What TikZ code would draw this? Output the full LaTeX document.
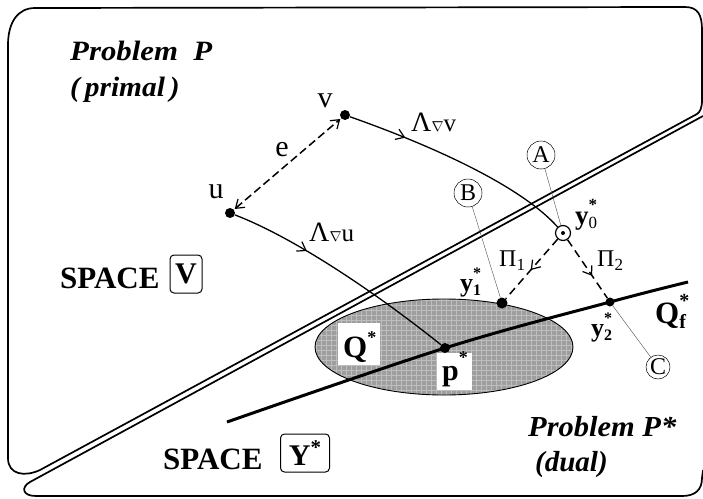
\documentclass[tikz,border=0pt]{standalone}
\usepackage{fontspec}
\setmainfont{Liberation Serif}
\usetikzlibrary{arrows.meta,decorations.markings}
\newcommand\SupSub[4]{#1\makebox[0pt][l]{\raisebox{0.5em}{\fontsize{#4}{#4}\selectfont #2}}{\fontsize{#4}{#4}\selectfont\raisebox{-0.28em}{#3}}}
\newcommand\fs[1]{\fontsize{#1}{#1}\selectfont}
\definecolor{ellgray}{RGB}{158,158,158}
\definecolor{gridgray}{RGB}{190,190,190}
\begin{document}
\begin{tikzpicture}[x=1pt,y=-1pt,
  outline/.style={line width=1.7pt, line join=round},
  dotnode/.style={circle, fill=black, inner sep=0pt, minimum size=#1},
  dotnode/.default=10pt,
  lbl/.style={inner sep=0pt, anchor=base west},
  circlbl/.style={circle, draw, line width=0.5pt, inner sep=0pt, minimum size=#1, font=\fs{24}},
  thinline/.style={line width=0.4pt, draw=black!70},
  barb/.tip={Straight Barb[length=8pt,width=11pt,line width=1.2pt]},
  curvearrow/.style={line width=1.3pt, postaction={decorate},
     decoration={markings, mark=at position #1 with {\arrow{barb}}}},
  dasharrow/.style={line width=1.5pt, dash pattern=on 8pt off 5pt, postaction={decorate},
     decoration={markings, mark=at position #1 with {\arrow{barb}}}},
  spacebox/.style={draw, line width=1pt, rounded corners=4pt, inner sep=0pt, minimum height=38pt}
]
\useasboundingbox (0,0) rectangle (703,498);

% upper region (SPACE V)
\draw[outline] (697,114) -- (40,470)
  .. controls (25,477) and (8,475) .. (8,458) -- (8,45)
  .. controls (8,22) and (18,8) .. (35,8) -- (685,7)
  .. controls (698,7) and (702,15) .. (702,30) -- (702,100)
  .. controls (702,108) and (700,112) .. (697,114);
% lower region (SPACE Y*)
\draw[outline] (703,116) -- (30,482)
  .. controls (21,487) and (22,496) .. (36,496) -- (682,496)
  .. controls (695,496) and (702,490) .. (702,478) -- (703,470);

% ellipse Q*
\fill[ellgray] (444,347) ellipse [x radius=129, y radius=48];
\begin{scope}
  \clip (444,347) ellipse [x radius=129, y radius=48];
  \foreach \gx in {316,321,...,576} {\draw[gridgray, line width=0.6pt] (\gx,298) -- (\gx,396);}
  \foreach \gy in {300,305,...,396} {\draw[gridgray, line width=0.6pt] (314,\gy) -- (574,\gy);}
\end{scope}
\draw[line width=0.9pt] (444,347) ellipse [x radius=129, y radius=48];
\fill[white] (338,323) rectangle (380,365);
\fill[white] (437,353) rectangle (472,390);

% nodes
\node[dotnode] (u) at (230,213) {};
\node[dotnode] (v) at (345,115) {};
\node[dotnode=10pt] (p) at (445,348) {};
\node[dotnode=11pt] (y1) at (502,303) {};
\node[dotnode=9pt] (y2) at (610,302) {};
\node[circle, draw, line width=1.2pt, minimum size=15pt, inner sep=0pt, fill=white] (y0) at (563,233) {};
\fill (y0.center) circle[radius=2];

\node[circlbl=28pt] (A) at (541,155) {A};
\node[circlbl=28pt] (B) at (468,193) {B};
\node[circlbl=24pt] (C) at (658,367) {C};

% thin leader lines
\draw[thinline] (A) -- (y0);
\draw[thinline] (B) -- (y1);
\draw[thinline] (C) -- (y2);

% Q_f* line
\draw[line width=3pt] plot[smooth, tension=0.6] coordinates {(227,422) (445,348) (610,302) (688,282)};

% curves
\draw[curvearrow=0.33] (u) .. controls (300,240) and (385,300) .. (p);
\draw[curvearrow=0.25] (v) .. controls (430,145) and (520,185) .. (y0);

% dashed arrows
\draw[line width=1.5pt, dash pattern=on 8pt off 4pt, {barb}-{barb}, shorten <=1pt, shorten >=1pt] (u) -- (v);
\draw[dasharrow=0.52] (y0) -- (y1);
\draw[dasharrow=0.62] (y0) -- (y2);

% labels
\node[lbl, font=\fs{28}\bfseries\itshape, xscale=1.1] (t1) at (70,60) {Problem\ \ P};
\node[lbl, font=\fs{28}\bfseries\itshape, xscale=1.05] (t2) at (70,96) {(\,primal\,)};
\node[font=\fs{30}] (lv) at (325,101) {v};
\node[font=\fs{30}] (lu) at (216,192) {u};
\node[font=\fs{30}] (le) at (282,150) {e};
\node[lbl] (lLv) at (411,131) {\fs{28}Λ\fs{14}$\nabla$\fs{25}v};
\node[lbl] (lLu) at (309,241) {\fs{28}Λ\fs{14}$\nabla$\fs{25}u};
\node[lbl, font=\fs{27}\bfseries] (ly0) at (575,224) {\SupSub{y}{*}{\mdseries 0}{17}};
\node[lbl, font=\fs{26}\bfseries] (ly1) at (460,291) {\SupSub{y}{*}{1}{16}};
\node[lbl, font=\fs{26}\bfseries] (ly2) at (591,336) {\SupSub{y}{*}{2}{16}};
\node[lbl, font=\fs{24}] (lp1) at (499,266) {\SupSub{Π}{}{1}{17}};
\node[lbl, font=\fs{24}] (lp2) at (597,266) {\SupSub{Π}{}{2}{17}};
\node[lbl, font=\fs{31}\bfseries] (lQ) at (343,357) {Q\raisebox{0.45em}{\fs{18}*}};
\node[lbl, font=\fs{30}\bfseries] (lp) at (442,380) {p\raisebox{0.55em}{\fs{18}*}};
\node[lbl, font=\fs{31}\bfseries] (lQf) at (655,323) {\SupSub{Q}{*}{f}{20}};

\node[lbl, font=\fs{31}\bfseries] (s1) at (60,288) {SPACE};
\node[spacebox, minimum width=32pt, font=\fs{30}\bfseries] (bV) at (186,274) {V};
\node[lbl, font=\fs{31}\bfseries] (s2) at (163,469) {SPACE};
\node[spacebox, minimum width=49pt, font=\fs{30}\bfseries] (bY) at (305,453) {Y\raisebox{0.35em}{\fs{21}*}};

\node[lbl, font=\fs{29}\bfseries\itshape, xscale=1.05] (t3) at (528,436) {Problem P*};
\node[lbl, font=\fs{29}\bfseries\itshape] (t4) at (535,471) {(dual)};
\end{tikzpicture}
\end{document}
